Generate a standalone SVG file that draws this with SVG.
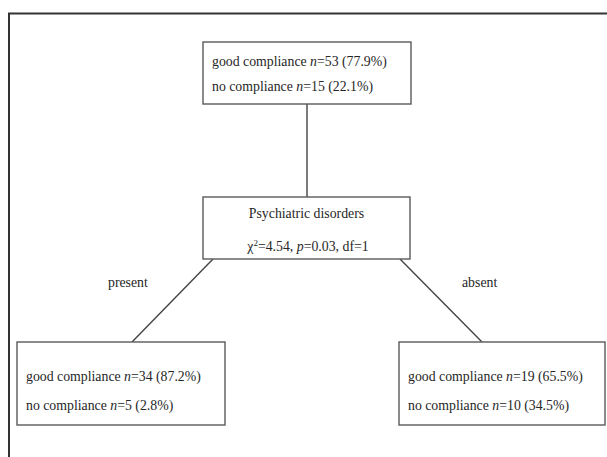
<svg xmlns="http://www.w3.org/2000/svg" width="607" height="457" viewBox="0 0 607 457">
<style>
text{font-family:"Liberation Serif","Times New Roman",serif;font-size:13.8px;fill:#262626}
.box{fill:#fff;stroke:#5a5a5a;stroke-width:1.4}
.ln{stroke:#444;stroke-width:1.4;fill:none}
</style>
<rect width="607" height="457" fill="#fff"/>
<path d="M9,457 V13.5 H607" stroke="#333" stroke-width="2" fill="none"/>
<g id="connectors">
<line class="ln" x1="307" y1="104" x2="307" y2="197"/>
<line class="ln" x1="213" y1="259" x2="132" y2="342"/>
<line class="ln" x1="400" y1="259" x2="482" y2="342"/>
<text x="108" y="287">present</text>
<text x="462" y="287">absent</text>
</g>
<g id="root">
<rect class="box" x="203" y="42" width="208" height="62"/>
<text x="212" y="66">good compliance <tspan font-style="italic">n</tspan>=53 (77.9%)</text>
<text x="212" y="91">no compliance <tspan font-style="italic">n</tspan>=15 (22.1%)</text>
</g>
<g id="split">
<rect class="box" x="203" y="197" width="207" height="62"/>
<text x="306.5" y="218" text-anchor="middle">Psychiatric disorders</text>
<text x="308" y="251" text-anchor="middle">χ<tspan font-size="9" dy="-5">2</tspan><tspan dy="5">=4.54, </tspan><tspan font-style="italic">p</tspan>=0.03, df=1</text>
</g>
<g id="present">
<rect class="box" x="17" y="342" width="208" height="83"/>
<text x="26" y="381">good compliance <tspan font-style="italic">n</tspan>=34 (87.2%)</text>
<text x="26" y="410">no compliance <tspan font-style="italic">n</tspan>=5 (2.8%)</text>
</g>
<g id="absent">
<rect class="box" x="399" y="342" width="206" height="83"/>
<text x="408" y="381">good compliance <tspan font-style="italic">n</tspan>=19 (65.5%)</text>
<text x="408" y="410">no compliance <tspan font-style="italic">n</tspan>=10 (34.5%)</text>
</g>
</svg>
